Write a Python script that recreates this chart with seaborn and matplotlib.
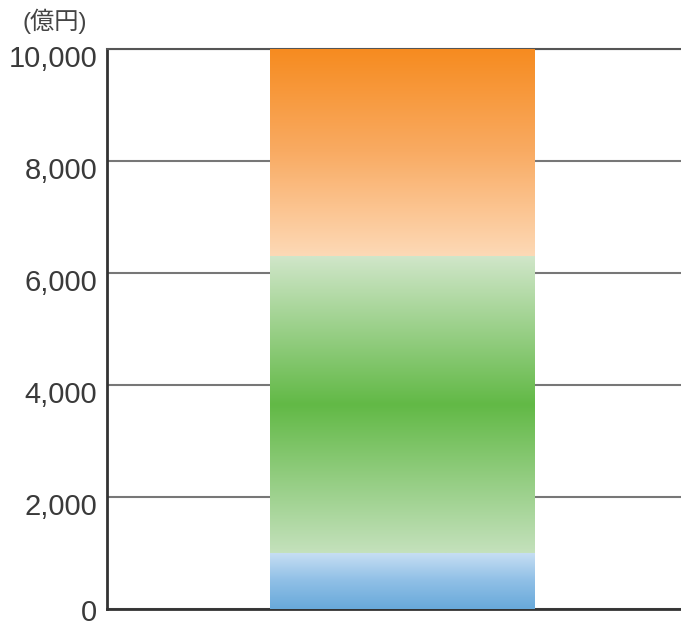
import numpy as np
import pandas as pd
import matplotlib.pyplot as plt
import seaborn as sns
from matplotlib.colors import LinearSegmentedColormap
from matplotlib.transforms import ScaledTranslation

# データ（億円）
segments = ['blue', 'green', 'orange']
values = [1000, 5300, 3700]
yticks = [0, 2000, 4000, 6000, 8000, 10000]
ytick_labels = ['0', '2,000', '4,000', '6,000', '8,000', '10,000']
unit_label = '(億円)'

# グラデーション（上 -> 中 -> 下）
grad_colors = {
    'blue': ['#c6def3', '#8fbfe6', '#68a9da'],
    'green': ['#d0e6c9', '#62b946', '#c4e1bc'],
    'orange': ['#f68b1f', '#f9ab63', '#fdd9b6'],
}

sns.set_theme(style='white')
plt.rcParams['font.family'] = ['Liberation Sans', 'Noto Sans CJK JP', 'DejaVu Sans']

fig = plt.figure(figsize=(6.81, 6.27), dpi=100)
ax = fig.add_axes([107 / 681, 18 / 627, 574 / 681, 560 / 627])

cum = np.cumsum(values)

# 累積値を大きい順に重ねて積み上げ棒にする
bars = []
for seg, top in zip(segments[::-1], cum[::-1]):
    sns.barplot(x=['total'], y=[top], color='white', width=0.8, ax=ax,
                linewidth=0, zorder=2)
    bars.append((seg, ax.patches[-1]))

for i, (seg, patch) in enumerate(bars):
    x0, y0 = patch.get_x(), patch.get_y()
    w, h = patch.get_width(), patch.get_height()
    lower = cum[::-1][i + 1] if i + 1 < len(bars) else 0
    cmap = LinearSegmentedColormap.from_list(seg, grad_colors[seg])
    grad = np.linspace(0, 1, 256).reshape(-1, 1)
    im = ax.imshow(grad, cmap=cmap, aspect='auto', origin='upper',
                   extent=[x0, x0 + w, lower, y0 + h], zorder=3 + i,
                   interpolation='bilinear')
    clip = plt.Rectangle((x0, lower), w, y0 + h - lower, transform=ax.transData)
    im.set_clip_path(clip)

ax.set_xlim(-0.893, 0.841)
ax.set_ylim(0, 10000)
ax.set_yticks(yticks)
ax.set_yticklabels(ytick_labels, fontsize=21, color='#3a3a3a')
ax.set_xticks([])
ax.set_xlabel('')
ax.set_ylabel('')
ax.tick_params(axis='y', length=0, pad=7)
# ラベルを少し下にずらす（0 は下端に収まる程度に）
for lab, t in zip(ax.get_yticklabels(), yticks):
    dy = -0.01 if t == 0 else -0.07
    lab.set_transform(lab.get_transform() + ScaledTranslation(0, dy, fig.dpi_scale_trans))

ax.yaxis.grid(True, color='#777777', linewidth=1.5)
ax.set_axisbelow(True)

for side in ['left', 'bottom', 'top']:
    ax.spines[side].set_color('#333333')
    ax.spines[side].set_linewidth(2)
ax.spines['top'].set_color('#555555')
ax.spines['top'].set_linewidth(1.5)
ax.spines['right'].set_visible(False)

fig.text(23 / 681, 1 - 21 / 627, unit_label, fontsize=17.5, color='#444444',
         ha='left', va='center')

fig.savefig('out.png', dpi=100)
